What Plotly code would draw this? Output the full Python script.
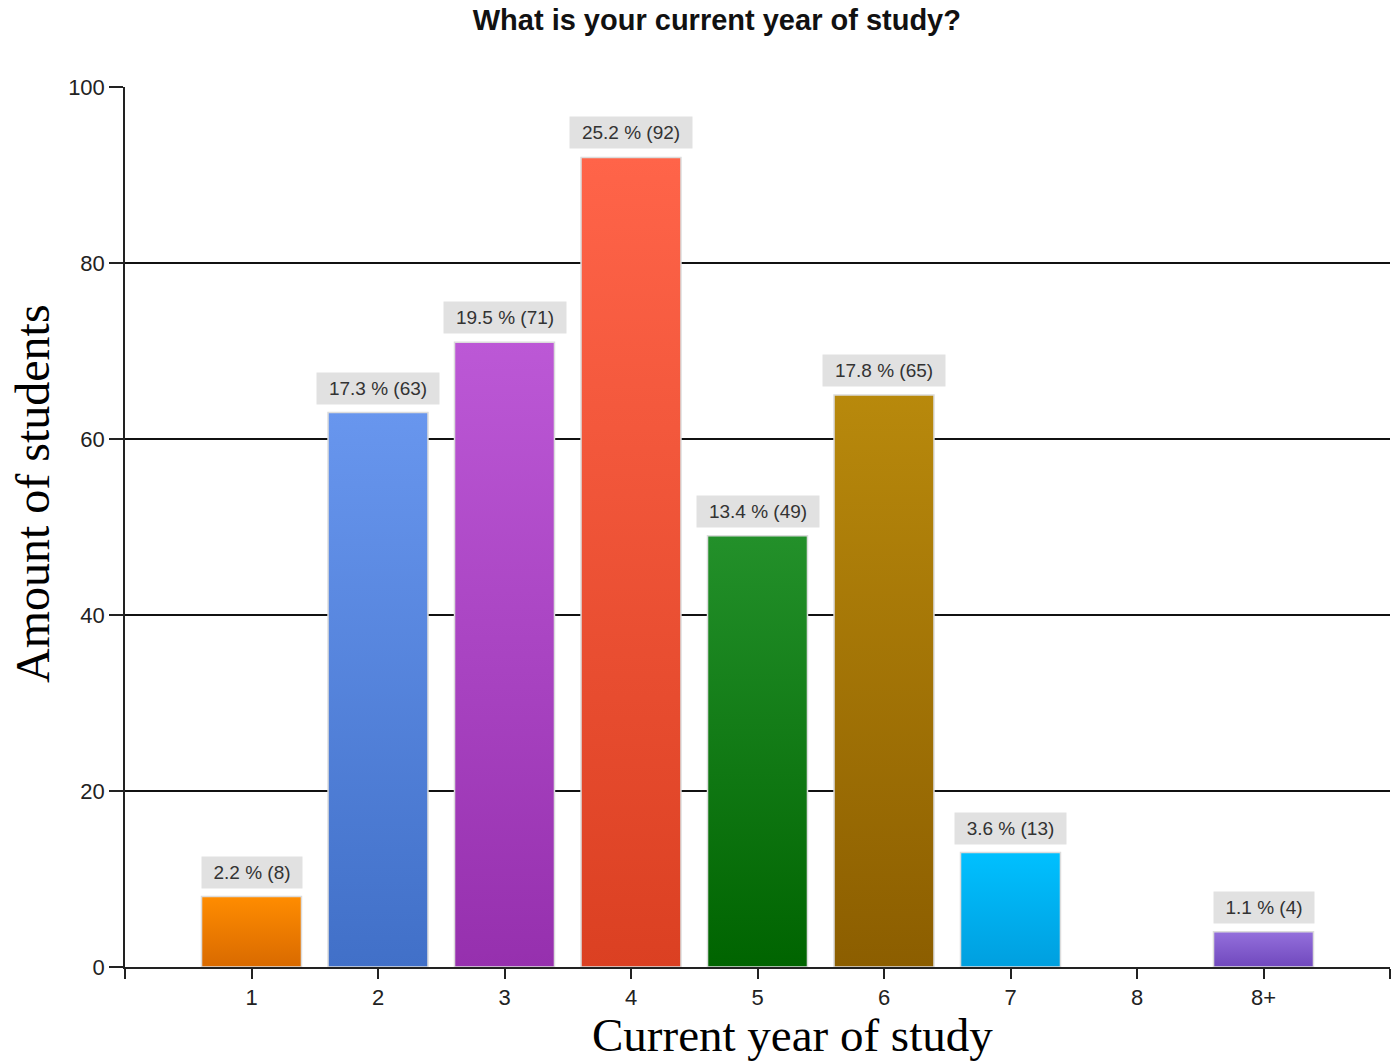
import plotly.graph_objects as go

# Survey responses: year of study
categories = ["1", "2", "3", "4", "5", "6", "7", "8", "8+"]
counts = [8, 63, 71, 92, 49, 65, 13, 0, 4]
percents = [2.2, 17.3, 19.5, 25.2, 13.4, 17.8, 3.6, 0.0, 1.1]

# Gradient colours per bar: (bottom, top)
bar_colors = [
    ("#d96a00", "#ff8c00"),
    ("#4170c8", "#6896ee"),
    ("#9630ae", "#bc58d6"),
    ("#db4022", "#ff6449"),
    ("#006400", "#23902a"),
    ("#8c5e00", "#b8890c"),
    ("#009fdf", "#00c0ff"),
    ("#7a7a7a", "#9a9a9a"),
    ("#7048bd", "#9470dc"),
]

y_ticks = [0, 20, 40, 60, 80, 100]

BAR_HALF = 0.395

fig = go.Figure()

for i, (cat, v) in enumerate(zip(categories, counts)):
    if v <= 0:
        continue
    lo, hi = bar_colors[i]
    fig.add_trace(go.Scatter(
        x=[i - BAR_HALF, i + BAR_HALF, i + BAR_HALF, i - BAR_HALF, i - BAR_HALF],
        y=[0, 0, v, v, 0],
        mode="lines",
        fill="toself",
        fillgradient=dict(type="vertical", colorscale=[[0, lo], [1, hi]]),
        line=dict(color="#dcdcdc", width=1.5),
        hoverinfo="skip",
        showlegend=False,
    ))
    label = f"{percents[i]} % ({v})"
    fig.add_annotation(
        x=i, y=v, xref="x", yref="y",
        text=label,
        showarrow=False,
        yanchor="bottom",
        yshift=8,
        bgcolor="#e1e1e1",
        borderpad=5,
        width=11 * len(label) - 9,
        font=dict(family="Liberation Sans, Arial, sans-serif", size=19, color="#333333"),
    )

fig.update_layout(
    width=1396,
    height=1061,
    margin=dict(l=125, r=6, t=87, b=94),
    paper_bgcolor="white",
    plot_bgcolor="white",
    title=dict(
        text="<b>What is your current year of study?</b>",
        x=0.5135, xanchor="center",
        y=0.981, yanchor="middle",
        font=dict(family="Liberation Sans, Arial, sans-serif", size=29, color="#111111"),
    ),
    xaxis=dict(
        range=[-1, 9],
        tickmode="array",
        tickvals=[-1] + list(range(len(categories))) + [9],
        ticktext=[""] + categories + [""],
        ticks="outside",
        ticklen=10,
        tickwidth=1.5,
        tickcolor="#222222",
        showline=True,
        linecolor="#222222",
        linewidth=1.5,
        showgrid=False,
        zeroline=False,
        tickfont=dict(family="Liberation Sans, Arial, sans-serif", size=22, color="#222222"),
    ),
    yaxis=dict(
        range=[0, 100],
        tickmode="array",
        tickvals=y_ticks,
        ticks="outside",
        ticklen=14,
        tickwidth=1.5,
        tickcolor="#222222",
        showline=True,
        linecolor="#222222",
        linewidth=1.5,
        showgrid=True,
        gridcolor="#111111",
        gridwidth=1.5,
        zeroline=False,
        tickfont=dict(family="Liberation Sans, Arial, sans-serif", size=22, color="#222222"),
    ),
)

# Axis titles
fig.add_annotation(
    text="Current year of study",
    xref="paper", yref="paper",
    x=0.528, y=-0.077,
    xanchor="center", yanchor="middle",
    showarrow=False,
    font=dict(family="Liberation Serif, Times New Roman, serif", size=47, color="black"),
)
fig.add_annotation(
    text="Amount of students",
    xref="paper", yref="paper",
    x=-0.0735, y=0.5375,
    xanchor="center", yanchor="middle",
    textangle=-90,
    showarrow=False,
    font=dict(family="Liberation Serif, Times New Roman, serif", size=48, color="black"),
)

fig.write_html("out.html")
